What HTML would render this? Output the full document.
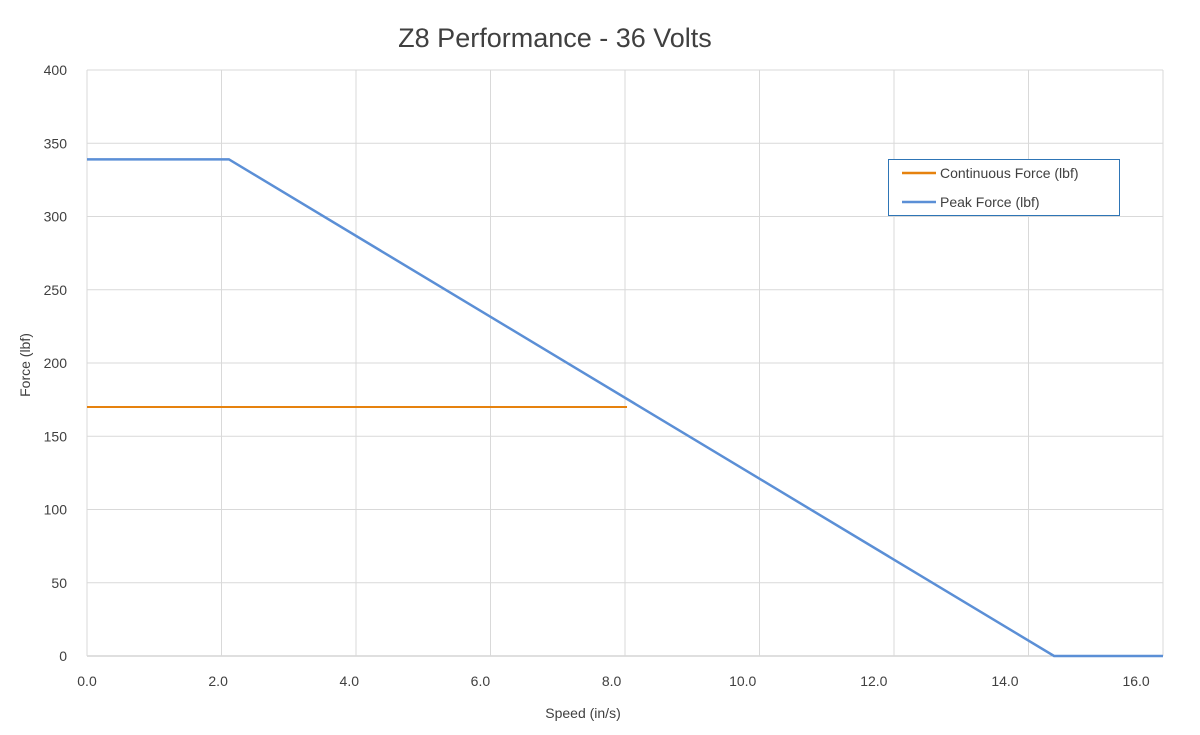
<!DOCTYPE html>
<html><head><meta charset="utf-8"><style>
body{margin:0;background:#fff;font-family:"Liberation Sans",sans-serif;}
svg text{font-family:"Liberation Sans",sans-serif;fill:#404040;}
</style></head><body>
<svg width="1200" height="730">
<text x="555" y="47" font-size="27" text-anchor="middle">Z8 Performance - 36 Volts</text>
<g id="grid"></g><g id="series"></g><g id="ticks"></g>
<text x="583" y="718" font-size="14" text-anchor="middle">Speed (in/s)</text>
<text x="30" y="365" font-size="14" text-anchor="middle" transform="rotate(-90 30 365)">Force (lbf)</text>
<g>
<rect x="888.5" y="159.5" width="231" height="56" fill="#fff" stroke="#2e75b6" stroke-width="1"/>
<line x1="902" y1="173" x2="936" y2="173" stroke="#e6820e" stroke-width="2.5"/>
<text x="940" y="178" font-size="14">Continuous Force (lbf)</text>
<line x1="902" y1="202" x2="936" y2="202" stroke="#5b8fd6" stroke-width="2.5"/>
<text x="940" y="207" font-size="14">Peak Force (lbf)</text>
</g>
</svg>
<script>
const xTicks=[0,2,4,6,8,10,12,14,16];
const yTicks=[0,50,100,150,200,250,300,350,400];
const contX=[0,8.03];
const contY=[170,170];
const peakX=[0,2.11,14.38,16];
const peakY=[339,339,0,0];
const NS="http://www.w3.org/2000/svg";
const x=v=>87+v*(1076/16);
const y=v=>656-v*(586/400);
const grid=document.getElementById('grid'),ticks=document.getElementById('ticks'),ser=document.getElementById('series');
function mk(tag,a,p){const e=document.createElementNS(NS,tag);for(const k in a)e.setAttribute(k,a[k]);p.appendChild(e);return e;}
yTicks.forEach(v=>{
 const l=mk('line',{x1:87,x2:1163,y1:y(v),y2:y(v),stroke:v===0?'#bfbfbf':'#d9d9d9','stroke-width':1},grid);
 
 
 const t=mk('text',{x:67,y:y(v)+5,'font-size':14,'text-anchor':'end'},ticks);t.textContent=v;
 
 
});
xTicks.forEach(v=>{
 const l=mk('line',{x1:x(v),x2:x(v),y1:70,y2:656,stroke:'#d9d9d9','stroke-width':1},grid);
 
 
 const t=mk('text',{x:87+(x(v)-87)*0.975,y:686,'font-size':14,'text-anchor':'middle'},ticks);t.textContent=v.toFixed(1);
 
 
});
const c=mk('polyline',{points:contX.map((v,i)=>x(v)+','+y(contY[i])).join(' '),fill:'none',stroke:'#e6820e','stroke-width':2},ser);


const p=mk('polyline',{points:peakX.map((v,i)=>x(v)+','+y(peakY[i])).join(' '),fill:'none',stroke:'#5b8fd6','stroke-width':2.5},ser);


</script>
</body></html>
